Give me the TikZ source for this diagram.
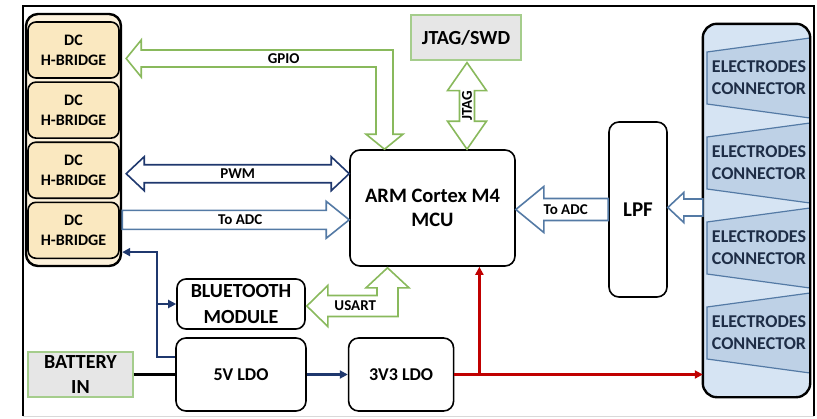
\documentclass[tikz,border=0pt]{standalone}
\usepackage{fontspec}
\setmainfont{Carlito}
\usetikzlibrary{arrows.meta,calc,positioning}

\definecolor{hbin}{RGB}{250,232,192}
\definecolor{hbout}{RGB}{253,242,220}
\definecolor{elfill}{RGB}{214,228,243}
\definecolor{trapfill}{RGB}{190,209,230}
\definecolor{steel}{RGB}{84,122,165}
\definecolor{navy}{RGB}{31,56,110}
\definecolor{redc}{RGB}{192,0,0}
\definecolor{palegray}{RGB}{230,230,230}
\definecolor{paleline}{RGB}{165,205,140}
\definecolor{arrowgreen}{RGB}{137,185,92}
\definecolor{eltext}{RGB}{30,45,70}

\begin{document}
\begin{tikzpicture}[x=1pt, y=-1pt,
    box/.style={draw, line width=1.6pt, rounded corners=10pt, align=center,
      font=\bfseries\fontsize{18}{22}\selectfont},
    grp/.style={draw, line width=2.4pt, rounded corners=12pt},
    hbbox/.style={box, fill=hbin, rounded corners=8pt, minimum width=91pt,
      minimum height=56pt, font=\bfseries\fontsize{16}{20}\selectfont},
    pale/.style={draw=paleline, line width=1.2pt, fill=palegray, align=center,
      font=\bfseries\fontsize{20}{25}\selectfont},
    trap/.style={draw=steel, line width=1.2pt, fill=trapfill},
    eltxt/.style={align=center, inner sep=0pt, text=eltext,
      font=\bfseries\fontsize{18}{22}\selectfont},
    lbl/.style={inner sep=1pt, font=\bfseries\fontsize{15}{18}\selectfont},
    greenarrow/.style={draw=arrowgreen, line width=1.6pt, fill=white},
    navyarrow/.style={draw=navy, line width=1.6pt, fill=white},
    steelarrow/.style={draw=steel, line width=1.6pt, fill=white},
    wire/.style={line width=2.4pt},
    tip/.style={-{Triangle[length=8pt,width=8pt]}},
  ]
  \useasboundingbox (0,0) rectangle (817,418);

  % outer frame
  \draw[line width=2.6pt] (23,416) -- (23,6) -- (814,6) -- (814,416);
  \draw[black!15, line width=1pt] (23,416) -- (814,416);

  % H-bridges
  \node[grp, fill=hbout, minimum width=95pt, minimum height=252pt] (hbgrp) at (73.5,140) {};
  \node[hbbox] (hb1) at (73.5,50) {DC\\H-BRIDGE};
  \node[hbbox, below=2.5pt of hb1] (hb2) {DC\\H-BRIDGE};
  \node[hbbox, below=2.5pt of hb2] (hb3) {DC\\H-BRIDGE};
  \node[hbbox, below=2.5pt of hb3] (hb4) {DC\\H-BRIDGE};

  % main blocks
  \node[box, minimum width=165pt, minimum height=116pt,
    font=\bfseries\fontsize{20.5}{24}\selectfont] (mcu) at (432.5,208) {ARM Cortex M4\\MCU};
  \node[pale, minimum width=110pt, minimum height=45pt] (jtag) at (466,37.5) {JTAG/SWD};
  \node[box, minimum width=58pt, minimum height=175pt,
    font=\bfseries\fontsize{21}{25}\selectfont] (lpf) at (638,209.5) {LPF};
  \node[box, rounded corners=9pt, minimum width=128pt, minimum height=50pt,
    font=\bfseries\fontsize{20}{26}\selectfont] (bt) at (241,304) {BLUETOOTH\\MODULE};
  \node[box, minimum width=130pt, minimum height=73pt] (ldo5) at (241,374.5) {5V LDO};
  \node[box, minimum width=105pt, minimum height=73pt, right=41pt of ldo5] (ldo3) {3V3 LDO};
  \node[pale, minimum width=105pt, minimum height=45pt] (bat) at (80.5,374.5) {BATTERY\\IN};

  % electrodes
  \node[fill=elfill, rounded corners=14pt, minimum width=107pt, minimum height=373pt] (elgrp) at (756.5,210.5) {};
  \foreach \c [count=\i] in {78,163,248,333} {
    \filldraw[trap] (707,\c-26) -- (810,\c-40) -- (810,\c+40) -- (707,\c+26) -- cycle;
    \node[eltxt] (el\i) at (759,\c) {ELECTRODES\\CONNECTOR};
  }
  \draw[line width=2.4pt, rounded corners=14pt] (elgrp.south west) rectangle (elgrp.north east);

  % power
  \draw[wire, line width=2.8pt] (bat) -- (ldo5);
  \draw[wire, navy, tip] (ldo5) -- (ldo3);
  \coordinate (pwr) at ($(ldo5.north west)+(-18,20)$);
  \draw[wire, navy, tip] ($(ldo5.north west)+(0,20)$) -- (pwr)
    |- ($(hb4.south -| hbgrp.east)+(0,-7)$);
  \draw[wire, navy, tip] (pwr |- bt) -- (bt);
  \coordinate (tap) at ($(ldo3.east)+(25,0)$);
  \draw[wire, redc, tip] (ldo3) -- (ldo3 -| elgrp.west);
  \draw[wire, redc, tip] (tap) -- (tap |- mcu.south);

  % GPIO
  \coordinate (g1) at ($(hb1.east -| hbgrp.east)+(4,8.5)$);
  \coordinate (g3) at ($(mcu.north)+(-48,0)$);
  \coordinate (g2) at (g3 |- g1);
  \draw[greenarrow] (g1) -- ++(15,-18.5) -- ++(0,10) -- ($(g2)+(8.5,-8.5)$)
    -- ($(g3)+(8.5,-15)$) -- ++(10,0) -- (g3) -- ++(-18.5,-15) -- ++(10,0)
    -- ($(g2)+(-8.5,8.5)$) -- ($(g1)+(15,8.5)$) -- ++(0,10) -- cycle;
  \node[lbl] (gpio) at ($(g1)!0.61!(g2)$) {GPIO};

  % PWM
  \coordinate (p1) at ($(hb3.east -| hbgrp.east)+(4,3.5)$);
  \coordinate (p2) at (mcu.west |- p1);
  \draw[navyarrow] (p1) -- ++(18,-17) -- ++(0,8) -- ($(p2)+(-18,-9)$) -- ++(0,-8)
    -- (p2) -- ++(-18,17) -- ++(0,-8) -- ($(p1)+(18,9)$) -- ++(0,8) -- cycle;
  \node[lbl] (pwm) at ($(p1)!0.5!(p2)$) {PWM};

  % ADC from H-bridge
  \coordinate (a1) at ($(hb4.east -| hbgrp.east)+(0,-10.5)$);
  \coordinate (a2) at (mcu.west |- a1);
  \draw[steelarrow] ($(a1)+(0,-9.5)$) -- ($(a2)+(-23,-9.5)$) -- ++(0,-9) -- (a2)
    -- ++(-23,18.5) -- ++(0,-9) -- ($(a1)+(0,9.5)$) -- cycle;
  \node[lbl] (adc1) at ($(a1)!0.52!(a2)$) {To ADC};

  % ADC from LPF
  \coordinate (b1) at (lpf.west);
  \coordinate (b2) at (mcu.east |- b1);
  \draw[steelarrow] ($(b1)+(0,-11)$) -- ($(b2)+(28,-11)$) -- ++(0,-12) -- (b2)
    -- ++(28,23) -- ++(0,-12) -- ($(b1)+(0,11)$) -- cycle;
  \node[lbl] (adc2) at ($(b1)!0.46!(b2)$) {To ADC};

  % electrodes to LPF
  \coordinate (e1) at ($(elgrp.west |- lpf)+(0,-2)$);
  \coordinate (e2) at (lpf.east |- e1);
  \draw[steelarrow] ($(e1)+(0,-8.5)$) -- ($(e2)+(16,-8.5)$) -- ++(0,-6.5) -- (e2)
    -- ++(16,15) -- ++(0,-6.5) -- ($(e1)+(0,8.5)$) -- cycle;

  % JTAG
  \coordinate (j1) at ($(jtag.south)+(1,2)$);
  \coordinate (j2) at (j1 |- mcu.north);
  \draw[greenarrow] (j1) -- ++(19.5,28) -- ++(-12,0) -- ($(j2)+(7.5,-28)$) -- ++(12,0)
    -- (j2) -- ++(-19.5,-28) -- ++(12,0) -- ($(j1)+(-7.5,28)$) -- ++(-12,0) -- cycle;
  \node[lbl, rotate=90] (jtaglbl) at ($(j1)!0.5!(j2)$) {JTAG};

  % USART
  \coordinate (u1) at ($(bt.east)+(1,2)$);
  \coordinate (u3) at ($(mcu.south)+(-45,1)$);
  \coordinate (u2) at (u3 |- u1);
  \draw[greenarrow] (u1) -- ++(21,-20.5) -- ++(0,10) -- ($(u2)+(-10.5,-10.5)$)
    -- ($(u3)+(-10.5,20)$) -- ++(-11,0) -- (u3) -- ++(21.5,20) -- ++(-11,0)
    -- ($(u2)+(10.5,10.5)$) -- ($(u1)+(21,10.5)$) -- ++(0,10) -- cycle;
  \node[lbl] (usart) at ($(u1)!0.6!(u2)$) {USART};
\end{tikzpicture}
\end{document}
